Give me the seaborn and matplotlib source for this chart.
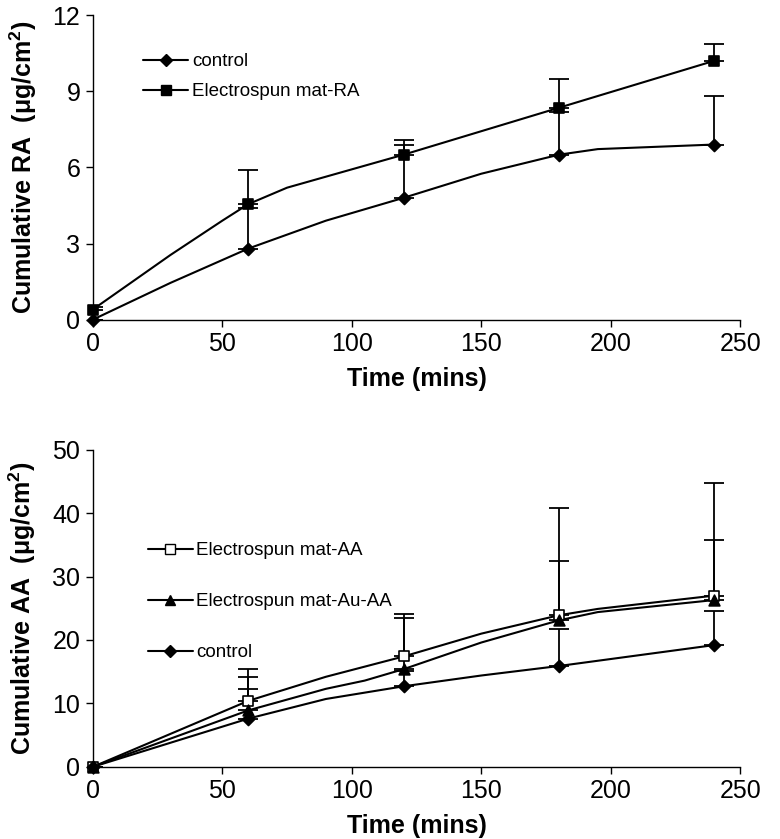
import matplotlib
matplotlib.use("Agg")
import matplotlib.pyplot as plt
import numpy as np
import seaborn as sns
from matplotlib.lines import Line2D

# Sampling times (markers)
times = [0, 60, 120, 180, 240]

# --- Top panel: RA release ---
ra_control = [0.0, 2.8, 4.8, 6.5, 6.9]
ra_control_err = [0.0, 1.6, 2.1, 1.7, 1.9]
ra_mat = [0.4, 4.55, 6.5, 8.35, 10.2]
ra_mat_err = [0.1, 1.35, 0.58, 1.15, 0.65]

# smoothed curves
ra_control_curve_t = [0, 30, 60, 90, 120, 150, 180, 195, 240]
ra_control_curve = [0.0, 1.45, 2.8, 3.9, 4.8, 5.75, 6.5, 6.72, 6.9]
ra_mat_curve_t = [0, 30, 50, 60, 75, 120, 180, 240]
ra_mat_curve = [0.4, 2.55, 3.9, 4.55, 5.2, 6.5, 8.35, 10.2]

# --- Bottom panel: AA release ---
aa_mat = [0.0, 10.4, 17.4, 23.9, 27.0]
aa_mat_err = [0.0, 5.0, 6.7, 16.9, 17.8]
aa_au = [0.0, 8.9, 15.4, 23.1, 26.3]
aa_au_err = [0.0, 5.3, 8.1, 9.3, 9.5]
aa_control = [0.0, 7.6, 12.7, 15.9, 19.2]
aa_control_err = [0.0, 4.6, 2.4, 5.8, 5.3]

aa_mat_curve_t = [0, 60, 90, 120, 150, 180, 195, 240]
aa_mat_curve = [0.0, 10.4, 14.2, 17.4, 21.0, 23.9, 24.9, 27.0]
aa_au_curve_t = [0, 60, 90, 105, 120, 150, 180, 195, 240]
aa_au_curve = [0.0, 8.9, 12.3, 13.6, 15.4, 19.6, 23.1, 24.4, 26.3]
aa_control_curve_t = [0, 60, 90, 120, 150, 180, 240]
aa_control_curve = [0.0, 7.6, 10.7, 12.7, 14.4, 15.9, 19.2]

sns.set_style("ticks")
plt.rcParams["font.family"] = ["Liberation Sans", "DejaVu Sans"]
plt.rcParams["mathtext.fontset"] = "custom"
plt.rcParams["mathtext.rm"] = "Liberation Sans"
plt.rcParams["mathtext.bf"] = "Liberation Sans:bold"
for key in ["text.color", "axes.labelcolor", "xtick.color", "ytick.color", "axes.edgecolor"]:
    plt.rcParams[key] = "black"

label_font = {"family": ["Liberation Sans", "DejaVu Sans"], "size": 18, "weight": "bold"}

fig = plt.figure(figsize=(7.8, 8.39), dpi=100)
ax1 = fig.add_axes([0.119, 0.619, 0.830, 0.363])
ax2 = fig.add_axes([0.119, 0.086, 0.830, 0.378])


def draw_series(ax, t_curve, y_curve, y_pts, err, marker, face, size):
    sns.lineplot(x=t_curve, y=y_curve, color="black", lw=1.5, ax=ax)
    ax.errorbar(times, y_pts, yerr=[np.zeros(len(err)), err], fmt="none",
                ecolor="black", elinewidth=1.3, capsize=7, capthick=1.3)
    sns.scatterplot(x=times, y=y_pts, marker=marker, s=size, color=face,
                    edgecolor="black", linewidth=1.2, ax=ax, zorder=5,
                    clip_on=False)


draw_series(ax1, ra_control_curve_t, ra_control_curve, ra_control,
            ra_control_err, "D", "black", 38)
draw_series(ax1, ra_mat_curve_t, ra_mat_curve, ra_mat, ra_mat_err, "s", "black", 55)

draw_series(ax2, aa_mat_curve_t, aa_mat_curve, aa_mat, aa_mat_err, "s", "white", 60)
draw_series(ax2, aa_au_curve_t, aa_au_curve, aa_au, aa_au_err, "^", "black", 60)
draw_series(ax2, aa_control_curve_t, aa_control_curve, aa_control,
            aa_control_err, "D", "black", 38)

ax1.set_xlim(0, 250)
ax1.set_ylim(0, 12)
ax1.set_yticks([0, 3, 6, 9, 12])
ax2.set_xlim(0, 250)
ax2.set_ylim(0, 50)
ax2.set_yticks([0, 10, 20, 30, 40, 50])

for ax in (ax1, ax2):
    ax.set_xticks([0, 50, 100, 150, 200, 250])
    sns.despine(ax=ax)
    ax.tick_params(direction="out", length=5, width=1, color="black", pad=4,
                   labelsize=18)
    for sp in ax.spines.values():
        sp.set_linewidth(1)
    ax.set_xlabel("Time (mins)", fontdict=label_font, labelpad=8)

ax1.set_ylabel(r"Cumulative RA  (μg/cm$^{\mathbf{2}}$)", fontdict=label_font, labelpad=10)
ax2.set_ylabel(r"Cumulative AA  (μg/cm$^{\mathbf{2}}$)", fontdict=label_font, labelpad=10)

h_control = Line2D([], [], color="black", lw=1.5, marker="D", markersize=6,
                   markerfacecolor="black", markeredgecolor="black")
h_ra = Line2D([], [], color="black", lw=1.5, marker="s", markersize=7,
              markerfacecolor="black", markeredgecolor="black")
h_aa = Line2D([], [], color="black", lw=1.5, marker="s", markersize=7,
              markerfacecolor="white", markeredgecolor="black")
h_au = Line2D([], [], color="black", lw=1.5, marker="^", markersize=7,
              markerfacecolor="black", markeredgecolor="black")

ax1.legend([h_control, h_ra], ["control", "Electrospun mat-RA"],
           loc="upper left", bbox_to_anchor=(0.066, 0.90), frameon=False,
           prop={"size": 13.5}, handlelength=2.4, handletextpad=0.2,
           labelspacing=0.7, borderaxespad=0)
ax2.legend([h_aa, h_au, h_control],
           ["Electrospun mat-AA", "Electrospun mat-Au-AA", "control"],
           loc="upper left", bbox_to_anchor=(0.073, 0.732), frameon=False,
           prop={"size": 13.5}, handlelength=2.4, handletextpad=0.2,
           labelspacing=1.8, borderaxespad=0)

fig.savefig("out.png", dpi=100)
